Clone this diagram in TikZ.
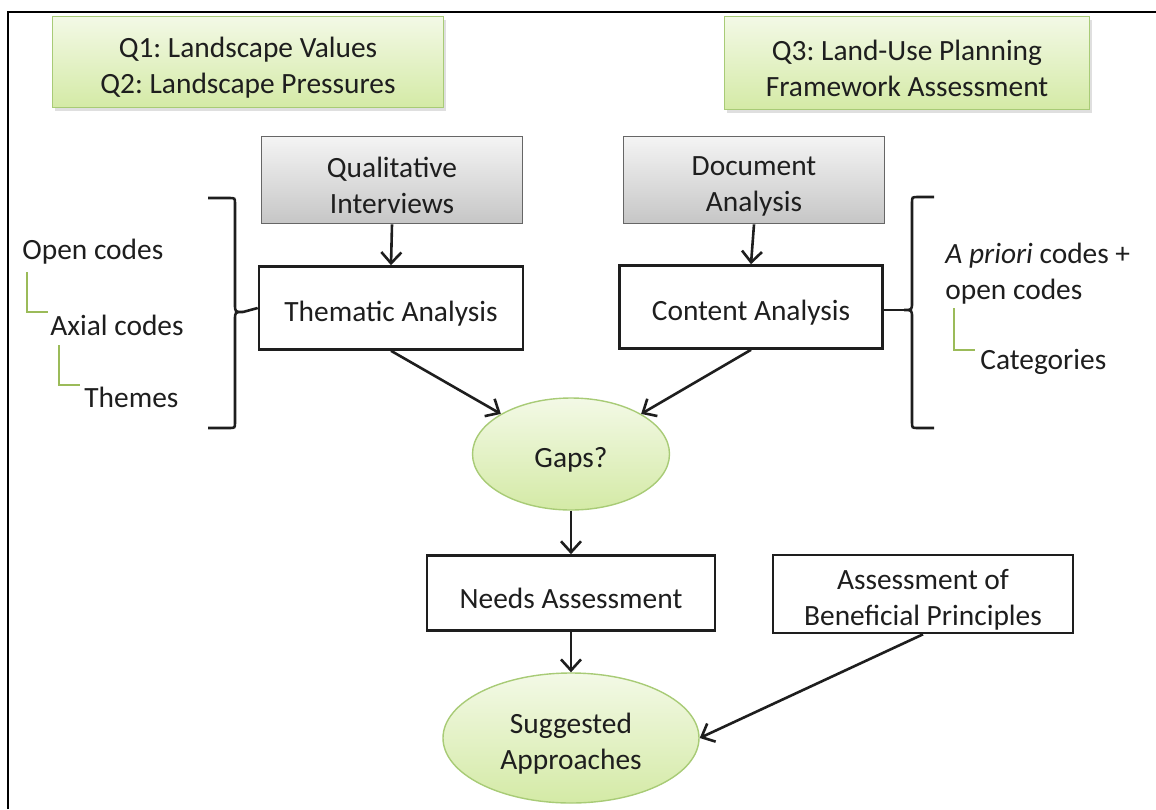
\documentclass[tikz,border=0pt]{standalone}
\usepackage{fontspec}
\setmainfont{Carlito}
\usetikzlibrary{shapes.geometric,arrows.meta,shadows}
\definecolor{qgreenT}{HTML}{F3F9E6}
\definecolor{qgreenB}{HTML}{D4EAA6}
\definecolor{qgreenD}{HTML}{A8CB76}
\definecolor{srcT}{HTML}{F4F4F4}
\definecolor{srcB}{HTML}{C6C6C6}
\definecolor{srcD}{HTML}{666666}
\definecolor{treeline}{HTML}{9BBB59}
\definecolor{ink}{HTML}{1E1E1E}
\newcommand\liftline{\rule{0pt}{16pt}}

\tikzset{
  question/.style={draw=qgreenD, line width=0.7pt, top color=qgreenT, bottom color=qgreenB,
    align=center, inner sep=0pt, drop shadow={opacity=0.25, shadow xshift=1.2pt, shadow yshift=-1.5pt}},
  source/.style={draw=srcD, line width=0.9pt, top color=srcT, bottom color=srcB,
    align=center, inner sep=0pt, minimum width=130.5pt, minimum height=43.5pt},
  analysis/.style={draw=ink, line width=1.3pt, fill=white, align=center, inner sep=0pt},
  outcome/.style={ellipse, draw=qgreenD, line width=0.7pt, top color=qgreenT, bottom color=qgreenB,
    align=center, inner sep=0pt},
  codes/.style={inner sep=0pt, anchor=west, align=left},
  flow/.style={draw=ink, line width=1.3pt, -{Straight Barb[length=5.5pt, width=10pt, line width=1.3pt]}},
  tree/.style={draw=treeline, line width=0.9pt},
  brace/.style={draw=ink, line width=1.3pt}
}

\begin{document}
\frenchspacing
\begin{tikzpicture}[x=0.5pt, y=-0.5pt, font=\fontsize{14.7}{18}\selectfont, text=ink]
  \useasboundingbox (0,0) rectangle (1156,809);
  % outer frame
  \draw[line width=1.2pt] (8,809) -- (8,12) -- (1156,12);

  % research questions
  \node[question, minimum width=195.5pt, minimum height=45.5pt] (rq12) at (248,62)
    {\liftline Q1: Landscape Values\\Q2: Landscape Pressures};
  \node[question, minimum width=182.5pt, minimum height=46.5pt] (rq3) at (907,63)
    {\liftline Q3: Land-Use Planning\\Framework Assessment};

  % data sources
  \node[source] (interviews) at (392,180) {\liftline Qualitative\\Interviews};
  \node[source] (documents) at (754,180) {\liftline Document\\Analysis};

  % analyses
  \node[analysis, minimum width=132pt, minimum height=41.5pt] (thematic) at (391,308) {\liftline Thematic Analysis};
  \node[analysis, minimum width=131.5pt, minimum height=41.5pt] (content) at (751,307) {\liftline Content Analysis};

  % outcomes
  \node[outcome, minimum width=98.5pt, minimum height=56pt] (gaps) at (571,454) {\liftline Gaps?};
  \node[analysis, minimum width=144pt, minimum height=37.5pt] (needs) at (571,593) {\liftline Needs Assessment};
  \node[analysis, minimum width=150pt, minimum height=39pt] (principles) at (923,594)
    {\liftline Assessment of\\Beneficial Principles};
  \node[outcome, minimum width=128pt, minimum height=65pt] (approaches) at (571,738)
    {\liftline Suggested\\Approaches};

  % coding steps
  \node[codes] (opencodes) at (22,252) {Open codes};
  \node[codes] (axial) at (50,325) {Axial codes};
  \node[codes] (themes) at (84,397) {Themes};
  \node[codes] (apriori) at (945,274) {\textit{A priori} codes +\\open codes};
  \node[codes] (categories) at (980,362) {Categories};

  \draw[tree] (27,272) -- (27,312) -- (48,312);
  \draw[tree] (59,345) -- (59,385) -- (80,385);
  \draw[tree] (954,308) -- (954,350) -- (975,350);

  % braces
  \draw[brace] (208,198) -- (229,198) .. controls (235,198) .. (235,204) -- (235,304)
    .. controls (235,312) .. (243,312) .. controls (235,312) .. (235,320) -- (235,422)
    .. controls (235,428) .. (229,428) -- (208,428);
  \draw[brace] (243,312) -- (thematic.west);
  \draw[brace] (934,197) -- (918,197) .. controls (912,197) .. (912,203) -- (912,302)
    .. controls (912,310) .. (904,310) .. controls (912,310) .. (912,318) -- (912,422)
    .. controls (912,428) .. (918,428) -- (934,428);
  \draw[brace] (904,310) -- (content.east |- 0,310);

  % connectors
  \draw[flow] (interviews.south) -- (thematic.north);
  \draw[flow] (documents.south) -- (content.north);
  \draw[flow] (thematic.south) -- (gaps.north west);
  \draw[flow] (content.south) -- (gaps.north east);
  \draw[flow] (gaps.south) -- (needs.north);
  \draw[flow] (needs.south) -- (approaches.north);
  \draw[flow] (principles.south) -- (approaches.east);
\end{tikzpicture}
\end{document}
